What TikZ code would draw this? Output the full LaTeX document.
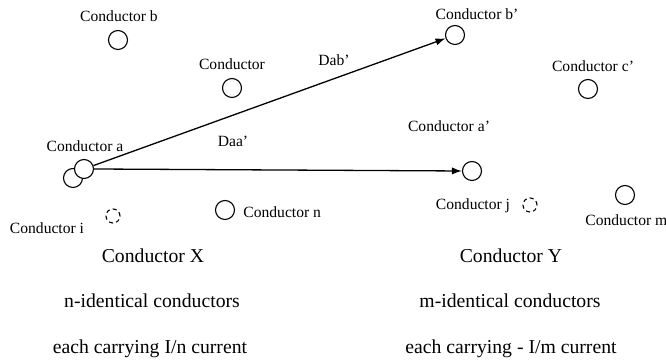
\documentclass[tikz,border=0pt]{standalone}
\usepackage{fontspec}
\setmainfont{Liberation Serif}
\usetikzlibrary{arrows.meta}

\begin{document}
\begin{tikzpicture}[x=0.5pt, y=-0.5pt, >={Latex[length=5pt,width=3.6pt]},
    lbl/.style={inner sep=0pt, font=\fontsize{7.8}{9}\selectfont},
    big/.style={inner sep=0pt, font=\fontsize{9.85}{11}\selectfont},
    wire/.style={draw, circle, line width=0.55pt, minimum size=9.5pt, inner sep=0pt, fill=white},
    ghost/.style={draw, circle, line width=0.55pt, dash pattern=on 2pt off 1.6pt, minimum size=7pt, inner sep=0pt}]
    \clip (0,0) rectangle (666,362);

    % Conduttore X
    \node[lbl] (tb) at (119, 16) {Conductor b};
    \node[wire] (cb) at (118, 40) {};
    \node[lbl] (tc) at (232, 64) {Conductor};
    \node[wire] (cc) at (232, 88) {};
    \node[lbl] (ta) at (85, 146) {Conductor a};
    \node[wire] (ca2) at (73, 178) {};
    \node[wire] (ca) at (84, 169) {};
    \node[ghost] (ci) at (113, 216) {};
    \node[lbl] (ti) at (47, 228) {Conductor i};
    \node[wire] (cn) at (225, 210) {};
    \node[lbl, anchor=west] (tn) at (243, 212) {Conductor n};

    % Conduttore Y
    \node[lbl] (tbp) at (477, 14) {Conductor b'};
    \node[wire] (cbp) at (455, 35) {};
    \node[lbl] (tcp) at (593, 66) {Conductor c'};
    \node[wire] (ccp) at (588, 89) {};
    \node[lbl] (tap) at (449, 126) {Conductor a'};
    \node[wire] (cap) at (472, 171) {};
    \node[lbl] (tj) at (473, 206) {Conductor j};
    \node[ghost] (cj) at (530, 205) {};
    \node[wire] (cm) at (625, 195) {};
    \node[lbl, anchor=west] (tm) at (585, 220) {Conductor m};

    % Distanze
    \draw[->, line width=0.65pt] (ca) -- (cbp);
    \draw[->, line width=0.65pt] (ca.east) -- (cap.west);
    \node[lbl] (dab) at (334, 60) {Dab'};
    \node[lbl] (daa) at (233, 141) {Daa'};

    % Didascalie
    \node[big] (tx) at (153, 256) {Conductor X};
    \node[big] (nx) at (152, 301) {n-identical conductors};
    \node[big] (ix) at (150, 349) {each carrying I/n current};
    \node[big] (ty) at (511, 256) {Conductor Y};
    \node[big] (my) at (510, 301) {m-identical conductors};
    \node[big] (iy) at (511, 349) {each carrying - I/m current};
\end{tikzpicture}
\end{document}
